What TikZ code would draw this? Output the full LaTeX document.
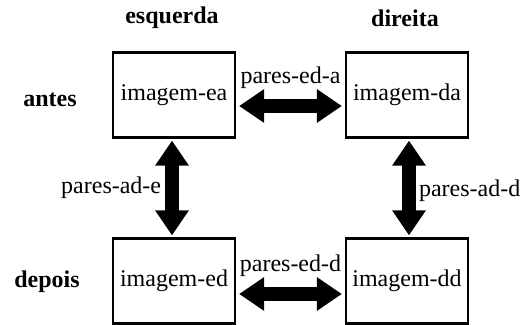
\documentclass[tikz,border=0pt]{standalone}
\usepackage{fontspec}
\setmainfont{Liberation Serif}
\usetikzlibrary{arrows.meta}

\tikzset{
  caixa/.style={draw, line width=1.1pt, minimum width=61pt, minimum height=42.5pt, inner sep=0pt},
  titulo/.style={font=\fontsize{12}{14}\selectfont\bfseries},
  duplaseta/.style={{Triangle[width=16pt,length=12.5pt]}-{Triangle[width=16pt,length=12.5pt]}, line width=7pt},
}

\begin{document}
\begin{tikzpicture}[x=0.5pt, y=-0.5pt, font=\fontsize{12}{14}\selectfont]
\useasboundingbox (0,0) rectangle (524,325);
% caixas
\node[caixa] (ea) at (174, 95) {imagem-ea};
\node[caixa] (da) at (407, 95) {imagem-da};
\node[caixa] (ed) at (174, 281) {imagem-ed};
\node[caixa] (dd) at (407, 281) {imagem-dd};
% titulos
\node[titulo] (esq) at (172, 18) {esquerda};
\node[titulo] (dir) at (405, 18) {direita};
\node[titulo] (antes) at (50, 100) {antes};
\node[titulo] (depois) at (47, 282) {depois};
% setas
\draw[duplaseta, shorten <=1.5pt, shorten >=1.5pt] ([yshift=-5.5pt]ea.east) -- ([yshift=-5.5pt]da.west)
  node[midway, above=2pt] (pea) {pares-ed-a};
\draw[duplaseta, shorten <=1.5pt, shorten >=1.5pt] ([yshift=-6.5pt]ed.east) -- ([yshift=-6.5pt]dd.west)
  node[midway, above=2pt] (ped) {pares-ed-d};
\draw[duplaseta, shorten <=1pt, shorten >=1pt] ([xshift=-1pt]ea.south) -- ([xshift=-1pt]ed.north)
  node[midway, left=-1.4pt] (pae) {pares-ad-e};
\draw[duplaseta, shorten <=1pt, shorten >=1pt] ([xshift=1pt]da.south) -- ([xshift=1pt]dd.north)
  node[midway, right=-1.8pt, yshift=-1.5pt] (pad) {pares-ad-d};
\end{tikzpicture}
\end{document}
